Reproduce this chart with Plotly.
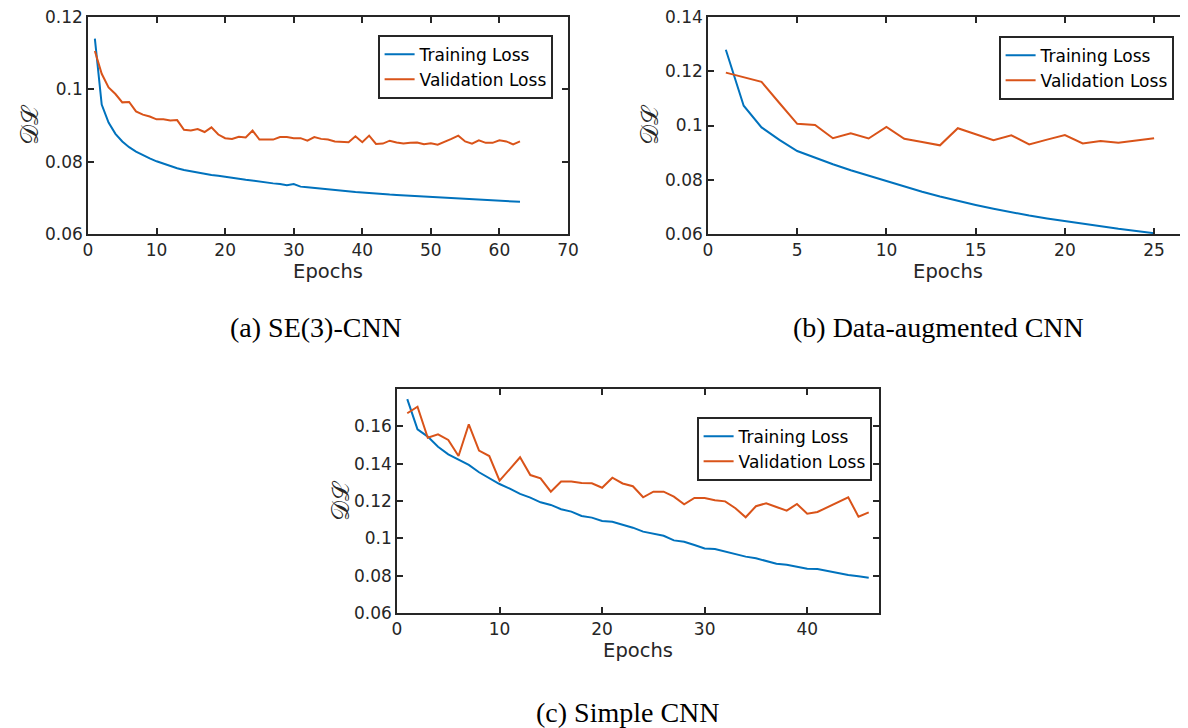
import plotly.graph_objects as go

# ---------------- data ----------------
epochs_a = list(range(1, 64))
train_a = [0.1140, 0.0958, 0.0908, 0.0877, 0.0856, 0.0840, 0.0828, 0.0818, 0.0809, 0.0801,
           0.0794, 0.0788, 0.0782, 0.0777, 0.0773, 0.0769, 0.0766, 0.0763, 0.0761, 0.0759,
           0.0756, 0.0753, 0.0750, 0.0747, 0.0745, 0.0743, 0.0740, 0.0738, 0.0735, 0.0738,
           0.0731, 0.0729, 0.0727, 0.0725, 0.0723, 0.0721, 0.0720, 0.0718, 0.0716, 0.0715,
           0.0713, 0.0712, 0.0711, 0.0709, 0.0708, 0.0707, 0.0706, 0.0704, 0.0703, 0.0702,
           0.0701, 0.0700, 0.0699, 0.0698, 0.0697, 0.0696, 0.0695, 0.0694, 0.0693, 0.0692,
           0.0691, 0.0690, 0.0689]
val_a = [0.1106, 0.1043, 0.1005, 0.0987, 0.0964, 0.0965, 0.0939, 0.0930, 0.0925, 0.0917,
         0.0917, 0.0914, 0.0915, 0.0888, 0.0886, 0.0890, 0.0882, 0.0895, 0.0875, 0.0865,
         0.0863, 0.0869, 0.0867, 0.0886, 0.0861, 0.0862, 0.0861, 0.0868, 0.0868, 0.0865,
         0.0865, 0.0858, 0.0868, 0.0863, 0.0861, 0.0856, 0.0856, 0.0854, 0.0870, 0.0854,
         0.0872, 0.0849, 0.0850, 0.0858, 0.0853, 0.0850, 0.0852, 0.0853, 0.0848, 0.0851,
         0.0847, 0.0854, 0.0863, 0.0872, 0.0856, 0.0850, 0.0859, 0.0852, 0.0852, 0.0859,
         0.0856, 0.0848, 0.0856]

epochs_b = list(range(1, 26))
train_b = [0.1279, 0.1073, 0.0993, 0.0947, 0.0906, 0.0881, 0.0857, 0.0835, 0.0815, 0.0795,
           0.0775, 0.0756, 0.0738, 0.0722, 0.0707, 0.0693, 0.0680, 0.0668, 0.0657, 0.0647,
           0.0637, 0.0628, 0.0619, 0.0611, 0.0603]
val_b = [0.1195, 0.1179, 0.1161, 0.1083, 0.1006, 0.1002, 0.0953, 0.0971, 0.0952, 0.0995,
         0.0951, 0.0939, 0.0927, 0.0990, 0.0968, 0.0946, 0.0964, 0.0930, 0.0948, 0.0965,
         0.0934, 0.0943, 0.0936, 0.0944, 0.0953]

epochs_c = list(range(1, 47))
train_c = [0.1746, 0.1584, 0.1545, 0.1491, 0.1450, 0.1420, 0.1393, 0.1354, 0.1321, 0.1291,
           0.1266, 0.1238, 0.1218, 0.1193, 0.1179, 0.1156, 0.1143, 0.1120, 0.1111, 0.1093,
           0.1089, 0.1073, 0.1057, 0.1036, 0.1025, 0.1014, 0.0989, 0.0982, 0.0964, 0.0946,
           0.0943, 0.0928, 0.0914, 0.0902, 0.0893, 0.0880, 0.0864, 0.0859, 0.0846, 0.0837,
           0.0836, 0.0825, 0.0811, 0.0804, 0.0797, 0.0789]
val_c = [0.1670, 0.1705, 0.1539, 0.1557, 0.1527, 0.1441, 0.1611, 0.1470, 0.1441, 0.1309,
         0.1371, 0.1434, 0.1339, 0.1321, 0.1250, 0.1304, 0.1304, 0.1296, 0.1295, 0.1271,
         0.1325, 0.1294, 0.1279, 0.1220, 0.1250, 0.1250, 0.1223, 0.1182, 0.1216, 0.1216,
         0.1204, 0.1198, 0.1161, 0.1113, 0.1172, 0.1188, 0.1168, 0.1148, 0.1184, 0.1132,
         0.1141, 0.1166, 0.1191, 0.1220, 0.1116, 0.1139]

series_names = ["Training Loss", "Validation Loss"]
captions = ["(a) SE(3)-CNN", "(b) Data-augmented CNN", "(c) Simple CNN"]
xlabel = "Epochs"
ylabel = "𝒟ℒ"

xticks_a = [0, 10, 20, 30, 40, 50, 60, 70]
xticks_b = [0, 5, 10, 15, 20, 25]
xticks_c = [0, 10, 20, 30, 40]
yticks_a = [0.06, 0.08, 0.10, 0.12]
yticks_b = [0.06, 0.08, 0.10, 0.12, 0.14]
yticks_c = [0.06, 0.08, 0.10, 0.12, 0.14, 0.16]

# ---------------- style ----------------
OFF = 8                      # page body margin of the html page
W, H = 1188 - OFF, 728 - OFF
BLUE = "#0072BD"
ORANGE = "#D95319"
AX = "#262626"
SANS = "DejaVu Sans"
SERIF = "Liberation Serif"


def px(x):
    return (x - OFF) / W


def py(y):
    return 1 - (y - OFF) / H


fig = go.Figure()

panels = [
    ("", epochs_a, train_a, val_a, "legend"),
    ("2", epochs_b, train_b, val_b, "legend2"),
    ("3", epochs_c, train_c, val_c, "legend3"),
]
for suf, ep, tr, va, lg in panels:
    fig.add_trace(go.Scatter(x=ep, y=tr, mode="lines", name=series_names[0],
                             line=dict(color=BLUE, width=2),
                             xaxis="x" + suf, yaxis="y" + suf, legend=lg))
    fig.add_trace(go.Scatter(x=ep, y=va, mode="lines", name=series_names[1],
                             line=dict(color=ORANGE, width=2),
                             xaxis="x" + suf, yaxis="y" + suf, legend=lg))


def xax(domain, rng, ticks, anchor):
    return dict(domain=domain, range=rng, tickvals=ticks, ticktext=[str(t) for t in ticks],
                ticks="inside", ticklen=6, tickwidth=1.5, tickcolor=AX,
                showline=True, linecolor=AX, linewidth=1.6, mirror="ticks",
                showgrid=False, zeroline=False, anchor=anchor, automargin=False,
                ticklabeloverflow="allow",
                tickfont=dict(family=SANS, size=17, color=AX),
                title=dict(text=xlabel, font=dict(family=SANS, size=19.5, color=AX), standoff=2))


def yax(domain, rng, ticks, anchor):
    return dict(domain=domain, range=rng, tickvals=ticks,
                ticktext=[("%g" % t) for t in ticks],
                ticks="inside", ticklen=6, tickwidth=1.5, tickcolor=AX,
                showline=True, linecolor=AX, linewidth=1.6, mirror="ticks",
                showgrid=False, zeroline=False, anchor=anchor, automargin=False,
                ticklabeloverflow="allow",
                tickfont=dict(family=SANS, size=17, color=AX))


ydom_top = [py(234), py(17)]
ydom_bot = [py(613), py(389)]

legend_style = dict(font=dict(family=SANS, size=17, color="#000000"),
                    bgcolor="white", bordercolor=AX, borderwidth=1.6,
                    itemwidth=30, tracegroupgap=0, xanchor="left", yanchor="top")

fig.update_layout(
    width=W, height=H,
    margin=dict(l=0, r=0, t=0, b=0, autoexpand=False),
    paper_bgcolor="white", plot_bgcolor="white",
    xaxis=xax([px(88), px(568)], [0, 70], xticks_a, "y"),
    yaxis=yax(ydom_top, [0.06, 0.12], yticks_a, "x"),
    xaxis2=xax([px(708), 1.0], [0, 26.9], xticks_b, "y2"),
    yaxis2=yax(ydom_top, [0.06, 0.14], yticks_b, "x2"),
    xaxis3=xax([px(397), px(879)], [0, 47], xticks_c, "y3"),
    yaxis3=yax(ydom_bot, [0.06, 0.18], yticks_c, "x3"),
    legend=dict(x=px(378), y=py(35), **legend_style),
    legend2=dict(x=px(999), y=py(36), **legend_style),
    legend3=dict(x=px(697), y=py(417), **legend_style),
    showlegend=True,
)

annotations = []
# y labels
for xpos, ymid in [(30, 125), (650, 125), (340, 501)]:
    annotations.append(dict(text=ylabel, x=px(xpos), y=py(ymid), xref="paper", yref="paper",
                            xanchor="center", yanchor="middle",
                            showarrow=False, textangle=-90,
                            font=dict(family="DejaVu Serif", size=25, color=AX)))
# captions
for cap, xc, yc in zip(captions, [316, 938, 628], [327, 327, 712]):
    annotations.append(dict(text=cap, x=px(xc), y=py(yc), xref="paper", yref="paper",
                            xanchor="center", yanchor="middle",
                            showarrow=False, font=dict(family=SERIF, size=28, color="#000000")))
fig.update_layout(annotations=annotations)

fig.write_html("out.html")
